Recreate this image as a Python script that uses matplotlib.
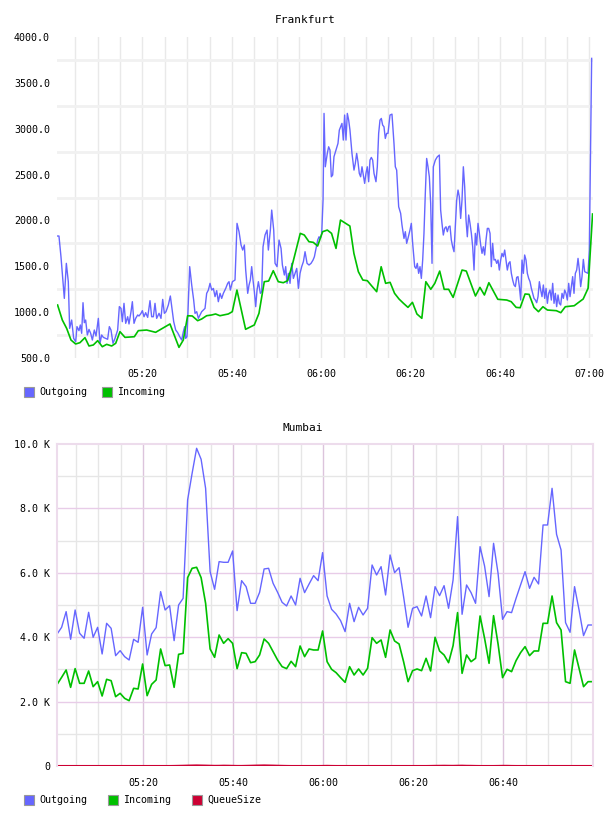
import numpy as np
import matplotlib
matplotlib.use('Agg')
import matplotlib.pyplot as plt
from matplotlib.patches import Rectangle
from matplotlib.ticker import FuncFormatter

plt.rcParams['font.family'] = ['DejaVu Sans Mono']
plt.rcParams['font.size'] = 7.2

# ---- Frankfurt (minutes after 05:00, value) ----
fr_out_t = [1.02, 1.31, 1.76, 2.51, 2.96, 3.40, 3.70, 4.15, 4.6, 5.05, 5.34, 5.79, 6.09, 6.39, 6.69,
            6.98, 7.28, 7.66, 8.03, 8.40, 8.78, 9.22, 9.6, 10.12, 10.49, 10.86, 11.24, 11.76, 12.2,
            12.58, 12.95, 13.4, 13.85, 14.44, 14.82, 15.19, 15.49, 15.86, 16.24, 16.68, 16.98, 17.43,
            17.73, 18.1, 18.47, 18.92, 19.22, 19.67, 19.97, 20.34, 20.71, 21.16, 21.68, 22.05, 22.43,
            22.8, 23.17, 23.7, 24.14, 24.52, 24.89, 25.26, 25.78, 26.23, 26.68, 26.98, 27.43, 27.87,
            28.32, 28.77, 29.14, 29.44, 29.66, 29.96, 30.56, 31.01, 31.45, 31.75, 32.13, 32.5, 32.87,
            33.24, 33.62, 33.99, 34.36, 34.74, 35.11, 35.48, 35.86, 36.23, 36.6, 36.97, 37.35, 37.72,
            38.09, 38.62, 39.06, 39.36, 39.66, 40.11, 40.7, 41.15, 41.6, 42.05, 42.42, 42.79, 43.09,
            43.54, 43.84, 44.13, 44.43, 44.73, 45.03, 45.33, 45.63, 45.93, 46.37, 46.67, 46.97, 47.42,
            47.87, 48.16, 48.61, 48.91, 49.36, 49.66, 50.1, 50.55, 51.0, 51.3, 51.74, 52.04, 52.34,
            52.64, 53.01, 53.39, 53.76, 54.13, 54.51, 54.88, 55.25, 55.62, 56.0, 56.37, 56.82, 57.26,
            57.71, 58.16, 58.46, 58.75, 59.2, 59.5, 59.8, 60.1, 60.4, 60.62,
            60.9, 61.35, 61.65, 61.95, 62.25, 62.55, 62.84, 63.29, 63.74, 64.04, 64.34, 64.63, 64.93,
            65.23, 65.53, 65.83, 66.13, 66.42, 66.87, 67.32, 67.62, 67.92, 68.21, 68.51, 68.81, 69.11,
            69.41, 69.71, 70.0, 70.3, 70.6, 70.9, 71.2, 71.5, 71.8, 72.24, 72.54, 72.84, 73.14, 73.44,
            73.73, 74.03, 74.33, 74.63, 74.93, 75.38, 75.82, 76.27, 76.57, 76.87, 77.32, 77.76, 78.06,
            78.51, 78.81, 79.11, 79.4, 79.85, 80.15, 80.45, 80.9, 81.19, 81.49, 81.79, 82.09, 82.39,
            82.69, 82.98, 83.28, 83.58, 83.88, 84.18, 84.48, 84.78, 85.07, 85.52, 85.97, 86.42, 86.71,
            87.01, 87.31, 87.61, 87.91, 88.21, 88.51, 88.8, 89.1, 89.4, 89.7, 90.0, 90.3, 90.6, 90.89,
            91.19, 91.49, 91.79, 92.09, 92.39, 92.68, 92.98, 93.28, 93.58, 93.88, 94.18, 94.47, 94.77,
            95.07, 95.37, 95.67, 95.97, 96.26, 96.56, 96.86, 97.16, 97.46, 97.76, 98.05, 98.35, 98.65,
            98.95, 99.25, 99.55, 99.84, 100.14, 100.44, 100.74, 101.04, 101.34, 101.63, 101.93, 102.23,
            102.53, 102.83, 103.13, 103.43, 103.72, 104.02, 104.32, 104.62, 104.92, 105.22, 105.51,
            105.81, 106.11, 106.41, 106.71, 107.01, 107.3, 107.6, 107.9, 108.2, 108.5, 108.8, 109.09,
            109.39, 109.69, 109.99, 110.29, 110.59, 110.88, 111.18, 111.48, 111.78, 112.08, 112.38,
            112.67, 112.97, 113.27, 113.57, 113.87, 114.17, 114.46, 114.76, 115.06, 115.36, 115.66,
            115.96, 116.25, 116.55, 116.85, 117.15, 117.45, 117.75, 118.04, 118.34, 118.64, 118.94,
            119.39, 119.69, 119.98, 120.5]
fr_out_v = [1830, 1830, 1604, 1150, 1532, 1332, 823, 914, 714, 678, 842, 798, 860, 769, 1103,
            885, 914, 751, 812, 769, 696, 805, 740, 932, 660, 751, 725, 714, 704,
            842, 805, 660, 714, 805, 1060, 1041, 896, 1096, 878, 950, 871, 1005,
            1114, 878, 932, 969, 958, 987, 1016, 950, 994, 943, 1125, 950, 950,
            1096, 932, 987, 932, 1139, 987, 1005, 1078, 1176, 1005, 896, 805, 776,
            733, 696, 787, 842, 714, 733, 1496, 1296, 1132, 987, 1005, 932, 969,
            1005, 1023, 1041, 1205, 1241, 1314, 1241, 1259, 1169, 1234, 1114, 1205, 1150,
            1205, 1259, 1314, 1332, 1241, 1332, 1350, 1968, 1877, 1732, 1677, 1732, 1459,
            1205, 1296, 1350, 1496, 1350, 1223, 1060, 1241, 1332, 1205, 1223, 1713, 1841,
            1895, 1677, 1895, 2113, 1895, 1532, 1496, 1786, 1695, 1514, 1405, 1496, 1314,
            1423, 1314, 1532, 1368, 1423, 1477, 1259, 1423, 1496, 1550, 1659, 1532, 1514,
            1532, 1568, 1604, 1677, 1786, 1822, 1804, 1859, 2222, 3167,
            2585, 2731, 2803, 2767, 2476, 2495, 2694, 2767, 2840, 2985, 3021, 3058, 2876,
            3149, 2876, 3167, 3094, 2985, 2731, 2549, 2622, 2731, 2640, 2513, 2476, 2585,
            2495, 2404, 2513, 2585, 2422, 2658, 2687, 2658, 2513, 2422, 2585, 2949, 3094, 3112,
            3040, 3021, 2894, 2949, 2949, 3149, 3159, 2840, 2585, 2549, 2149, 2077, 1950,
            1804, 1877, 1750, 1804, 1895, 1968, 1750, 1496, 1477, 1532, 1423, 1496, 1368,
            1568, 1859, 2295, 2676, 2585, 2476, 2186, 1532, 2585, 2658, 2694, 2713, 2113,
            1968, 1841, 1913, 1931, 1877, 1931, 1939, 1786, 1713, 1659, 1931, 2222, 2331, 2258,
            2022, 2222, 2585, 2367, 2004, 1822, 2059, 1968, 1859, 1713, 1459, 1859, 1732,
            1968, 1859, 1732, 1641, 1713, 1623, 1786, 1913, 1913, 1859, 1496, 1750, 1568,
            1575, 1532, 1568, 1459, 1568, 1641, 1604, 1677, 1568, 1459, 1532, 1550,
            1423, 1350, 1296, 1278, 1379, 1387, 1278, 1132, 1568, 1423, 1623,
            1568, 1423, 1368, 1332, 1259, 1205, 1150, 1132, 1103, 1169, 1332, 1241,
            1169, 1296, 1150, 1259, 1096, 1205, 1241, 1132, 1314, 1096, 1205,
            1060, 1187, 1096, 1078, 1205, 1150, 1241, 1205, 1132, 1314, 1169,
            1278, 1387, 1205, 1423, 1459, 1586, 1459, 1278, 1387, 1575, 1441,
            1430, 1423, 1677, 3767]

fr_in_t = [1.0, 2.06, 3.03, 4.0, 5.04, 6.0, 7.13, 8.03, 9.0, 9.97, 11.01, 11.98, 13.1, 14.0, 14.96,
           16.08, 18.17, 19.06, 20.93, 22.94, 26.15, 28.16, 29.13, 30.1, 31.14, 32.34, 33.23, 34.35,
           35.47, 36.36, 37.33, 39.2, 40.09, 41.13, 43.07, 45.01, 46.06, 47.25, 48.22, 49.26, 50.38,
           51.5, 52.47, 53.51, 55.3, 56.2, 57.24, 58.21, 59.18,
           60.3, 61.35, 62.3, 63.3, 64.3, 66.4, 67.3, 68.3, 69.3, 70.3, 71.3, 72.4, 73.4, 74.4, 75.4,
           76.4, 77.4, 78.4, 79.4, 80.4, 81.4, 82.5, 83.4, 84.5, 85.4, 86.5, 87.5, 88.5, 89.5, 91.5,
           92.45, 94.5, 95.5, 96.5, 97.5, 99.5, 101.5, 102.5, 103.6, 104.5, 105.6, 106.5, 107.6,
           108.6, 109.6, 110.6, 112.6, 113.6, 114.6, 116.6, 117.6, 118.6, 119.7, 120.7]
fr_in_v = [1078, 914, 823, 696, 653, 667, 722, 631, 642, 689, 623, 649, 631, 660, 787,
           725, 732, 798, 805, 780, 871, 616, 696, 961, 958, 907, 925, 961,
           969, 980, 961, 980, 1005, 1241, 813, 860, 987, 1332, 1339, 1452, 1332,
           1321, 1343, 1514, 1859, 1841, 1768, 1761, 1721,
           1877, 1895, 1859, 1695, 2004, 1939, 1641, 1441, 1350, 1343, 1285, 1223, 1495, 1314, 1325,
           1205, 1143, 1096, 1052, 1107, 980, 933, 1332, 1249, 1314, 1448, 1249, 1249, 1161, 1459,
           1448, 1176, 1270, 1187, 1321, 1140, 1132, 1114, 1052, 1048, 1198, 1194, 1052,
           1005, 1059, 1023, 1016, 994, 1059, 1070, 1107, 1143, 1260, 2070]

# ---- Mumbai (one sample per minute from 05:00:54) ----
mu_out = [4100, 4307, 4794, 3934, 4845, 4121, 3966, 4773, 3997, 4307,
          3479, 4431, 4276, 3427, 3582, 3396, 3292, 3934, 3841, 4928,
          3448, 4100, 4297, 5415, 4845, 4980, 3893, 5001, 5207, 8262,
          9090, 9867, 9525, 8624, 6036, 5487, 6347, 6326, 6326, 6678,
          4825, 5756, 5570, 5052, 5052, 5394, 6119, 6140, 5673, 5394,
          5083, 4970, 5280, 5001, 5829, 5384, 5653, 5912, 5756, 6626,
          5280, 4866, 4721, 4514, 4173, 5052, 4483, 4928, 4690, 4897,
          6243, 5932, 6191, 5311, 6554, 6005, 6160, 5260, 4307, 4897,
          4949, 4659, 5280, 4607, 5570, 5291, 5601, 4897, 5777, 7744,
          4711, 5622, 5384, 5052, 6812, 6212, 5260, 6916, 5984, 4555,
          4794, 4763, 5207, 5622, 6036, 5518, 5860, 5653, 7485, 7485,
          8624, 7195, 6709, 4452, 4152, 5570, 4845, 4048, 4379, 4379]
mu_in = [2536, 2754, 2982, 2443, 3024, 2568, 2568, 2951, 2464, 2619,
         2174, 2692, 2650, 2153, 2257, 2101, 2029, 2412, 2392, 3168,
         2184, 2536, 2671, 3634, 3117, 3137, 2443, 3468, 3499, 5850,
         6140, 6171, 5850, 5052, 3634, 3375, 4069, 3810, 3955, 3810,
         3024, 3520, 3499, 3209, 3240, 3448, 3945, 3810, 3551, 3292,
         3085, 3024, 3251, 3085, 3727, 3396, 3634, 3603, 3603, 4193,
         3240, 3003, 2899, 2744, 2599, 3085, 2826, 3013, 2826, 3034,
         3986, 3810, 3914, 3375, 4224, 3883, 3789, 3240, 2619, 2961,
         3013, 2961, 3344, 2951, 3997, 3572, 3448, 3209, 3737, 4763,
         2878, 3448, 3240, 3344, 4659, 3966, 3189, 4669, 3789, 2744,
         3003, 2930, 3272, 3520, 3707, 3427, 3572, 3572, 4431, 4431,
         5280, 4452, 4224, 2619, 2568, 3603, 3034, 2464, 2619, 2619]
mu_queue = [0, 0, 0, 0, 0, 0, 0, 0, 0, 0,
            0, 0, 0, 0, 0, 0, 0, 0, 0, 0,
            0, 0, 0, 0, 0, 0, 2, 5, 8, 12,
            15, 18, 15, 12, 8, 5, 6, 10, 8, 5,
            2, 2, 5, 8, 12, 15, 18, 15, 12, 8,
            5, 2, 0, 0, 0, 0, 0, 0, 0, 2,
            5, 2, 0, 0, 0, 0, 0, 0, 0, 0,
            0, 0, 0, 0, 0, 0, 0, 0, 0, 0,
            0, 0, 0, 2, 5, 6, 8, 6, 5, 8,
            10, 6, 5, 2, 0, 0, 0, 0, 2, 5,
            5, 2, 0, 0, 0, 0, 0, 0, 0, 0,
            0, 0, 0, 0, 0, 0, 0, 0, 0, 0]
mu_t = np.arange(len(mu_out)) + 0.9

BLUE = '#6666ff'
GREEN = '#00c000'
RED = '#cc0033'

W, H = 608, 816
fig = plt.figure(figsize=(W / 100, H / 100), dpi=100)


def px_axes(l, t, r, b):
    return fig.add_axes([l / W, 1 - b / H, (r - l) / W, (b - t) / H])


def hhmm(m, pos=None):
    m = int(round(m))
    return f"{5 + m // 60:02d}:{m % 60:02d}"


def legend(items, y):
    for x0, label, color in items:
        fig.add_artist(Rectangle((x0 / W, 1 - (y + 5) / H), 10 / W, 10 / H,
                                 transform=fig.transFigure, facecolor=color,
                                 edgecolor='#999999', lw=0.8))
        fig.text((x0 + 15) / W, 1 - y / H, label, ha='left', va='center')


# ---- top chart ----
ax1 = px_axes(57, 37, 593, 358)
for m in range(5, 121, 5):
    ax1.axvline(m, color='#e9e9e9', lw=1, zorder=0)
for v in range(750, 4000, 500):
    ax1.axhline(v, color='#f1f1f1', lw=2, zorder=0)
ax1.plot(fr_out_t, fr_out_v, color=BLUE, lw=1)
ax1.plot(fr_in_t, fr_in_v, color=GREEN, lw=1.2)
ax1.set_xlim(0.87, 120.8)
ax1.set_ylim(500, 4000)
for s in ax1.spines.values():
    s.set_visible(False)
ax1.set_yticks(range(500, 4001, 500))
ax1.set_yticklabels([f"{v}.0" for v in range(500, 4001, 500)])
ax1.set_xticks(range(20, 121, 20))
ax1.xaxis.set_major_formatter(FuncFormatter(hhmm))
ax1.tick_params(length=0)
ax1.tick_params(axis='y', pad=5)
ax1.tick_params(axis='x', pad=8)
fig.text(305 / W, 1 - 20 / H, 'Frankfurt', ha='center', va='center', fontsize=8)
legend([(24, 'Outgoing', BLUE), (102, 'Incoming', GREEN)], 392)

# ---- bottom chart ----
ax2 = px_axes(57, 444, 593, 766)
for m in range(5, 120, 5):
    major = m % 20 == 0
    ax2.axvline(m, color='#dcc4dc' if major else '#e6e6e6', lw=1, zorder=0)
for v in range(1000, 10000, 1000):
    major = v % 2000 == 0
    ax2.axhline(v, color='#e8cce8' if major else '#e6e6e6', lw=1, zorder=0)
ax2.plot(mu_t, mu_out, color=BLUE, lw=1)
ax2.plot(mu_t, mu_in, color=GREEN, lw=1.2)
ax2.plot(mu_t, mu_queue, color=RED, lw=1.5)
ax2.set_xlim(0.87, 120.0)
ax2.set_ylim(0, 10000)
for side in ['top', 'left', 'right']:
    ax2.spines[side].set_color('#eddcec')
    ax2.spines[side].set_linewidth(1.5)
ax2.spines['bottom'].set_visible(False)
ax2.set_yticks(range(0, 10001, 2000))
ax2.set_yticklabels(['0'] + [f"{v // 1000}.0 K" for v in range(2000, 10001, 2000)])
ax2.set_xticks(range(20, 101, 20))
ax2.xaxis.set_major_formatter(FuncFormatter(hhmm))
ax2.tick_params(length=0)
ax2.tick_params(axis='y', pad=5)
ax2.tick_params(axis='x', pad=9)
fig.text(303 / W, 1 - 428 / H, 'Mumbai', ha='center', va='center', fontsize=8)
legend([(24, 'Outgoing', BLUE), (108, 'Incoming', GREEN), (192, 'QueueSize', RED)], 800)

fig.savefig('out.png', dpi=100)
